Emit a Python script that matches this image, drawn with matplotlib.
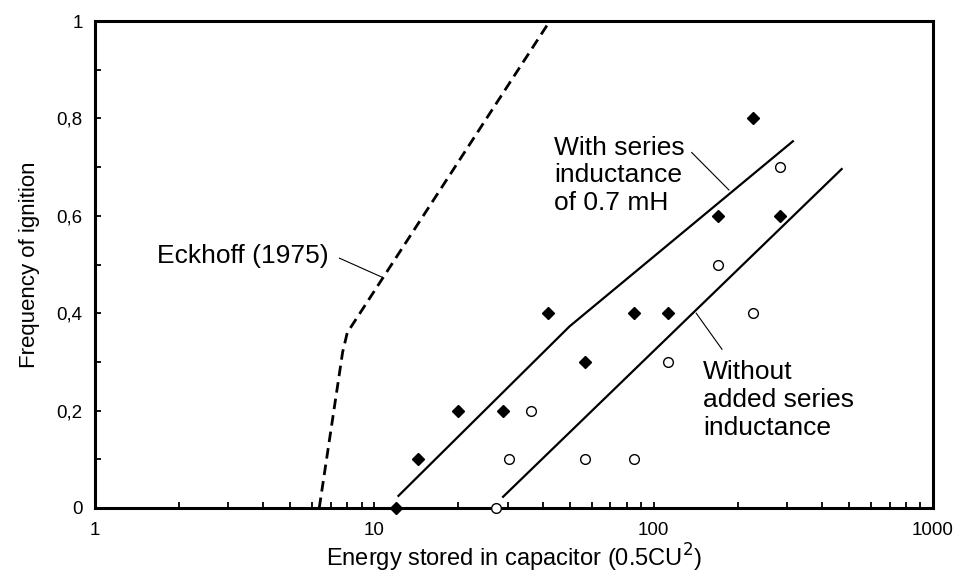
import matplotlib
matplotlib.use('Agg')
import matplotlib.pyplot as plt
from matplotlib.ticker import FixedLocator, FixedFormatter, NullFormatter

plt.rcParams['font.family'] = ['Liberation Sans', 'DejaVu Sans']

# Data: with series inductance (filled diamonds)
with_x = [12, 14.3, 19.9, 28.9, 42.0, 56.8, 84.8, 113, 170, 226, 283]
with_y = [0, 0.1, 0.2, 0.2, 0.4, 0.3, 0.4, 0.4, 0.6, 0.8, 0.6]
# Data: without added series inductance (open circles)
without_x = [27.2, 30.3, 36.5, 56.8, 84.8, 113, 170, 226, 283]
without_y = [0, 0.1, 0.2, 0.1, 0.1, 0.3, 0.5, 0.4, 0.7]
# Eckhoff (1975) curve
eck_x = [6.35, 7.7, 8.0, 42.5]
eck_y = [0, 0.32, 0.36, 1.0]
# Fitted lines
fit_with_x = [12.2, 50, 315]
fit_with_y = [0.025, 0.373, 0.753]
fit_without_x = [28.9, 471]
fit_without_y = [0.023, 0.696]

x_major = [1, 10, 100, 1000]
x_major_labels = ['1', '10', '100', '1000']
y_major = [0, 0.2, 0.4, 0.6, 0.8, 1.0]
y_major_labels = ['0', '0,2', '0,4', '0,6', '0,8', '1']

fig = plt.figure(figsize=(9.55, 5.76), dpi=100)
ax = fig.add_axes([95/955, 68/576, 838/955, 487/576])

ax.set_xscale('log')
ax.set_xlim(1, 1000)
ax.set_ylim(0, 1)

ax.plot(eck_x, eck_y, color='black', lw=2.0, linestyle=(0, (3.8, 2.2)))
ax.plot(fit_with_x, fit_with_y, color='black', lw=1.6)
ax.plot(fit_without_x, fit_without_y, color='black', lw=1.6)

ax.plot(with_x, with_y, linestyle='none', marker='D', ms=6, color='black',
        clip_on=False, zorder=5)
ax.plot(without_x, without_y, linestyle='none', marker='o', ms=7, mfc='white',
        mec='black', mew=1.0, clip_on=False, zorder=5)

# Annotations
ax.text(1.67, 0.518, 'Eckhoff (1975)', fontsize=19, ha='left', va='center')
ax.plot([7.5, 10.65], [0.513, 0.474], color='black', lw=0.8)

ax.text(44.1, 0.683, 'With series\ninductance\nof 0.7 mH', fontsize=19,
        ha='left', va='center', linespacing=1.2)
ax.plot([136.8, 186], [0.730, 0.653], color='black', lw=0.8)

ax.text(150.6, 0.222, 'Without\nadded series\ninductance', fontsize=19,
        ha='left', va='center', linespacing=1.2)
ax.plot([142, 175.6], [0.400, 0.326], color='black', lw=0.8)

# Ticks
ax.xaxis.set_major_locator(FixedLocator(x_major))
ax.xaxis.set_major_formatter(FixedFormatter(x_major_labels))
minor = [m * d for d in [1, 10, 100] for m in range(2, 10)]
ax.xaxis.set_minor_locator(FixedLocator(minor))
ax.xaxis.set_minor_formatter(NullFormatter())
ax.yaxis.set_major_locator(FixedLocator(y_major))
ax.yaxis.set_major_formatter(FixedFormatter(y_major_labels))
ax.yaxis.set_minor_locator(FixedLocator([0.1, 0.3, 0.5, 0.7, 0.9]))

ax.tick_params(axis='both', which='both', direction='in', length=4.3, width=1.3,
               top=False, right=False)
ax.tick_params(axis='x', which='major', pad=10, labelsize=13.5)
ax.tick_params(axis='y', which='major', pad=9, labelsize=13.5)

for s in ax.spines.values():
    s.set_linewidth(2.2)

ax.set_xlabel('Energy stored in capacitor (0.5CU$^2$)', fontsize=17, labelpad=2)
ax.set_ylabel('Frequency of ignition', fontsize=16, labelpad=12)

fig.savefig('out.png', dpi=100)
